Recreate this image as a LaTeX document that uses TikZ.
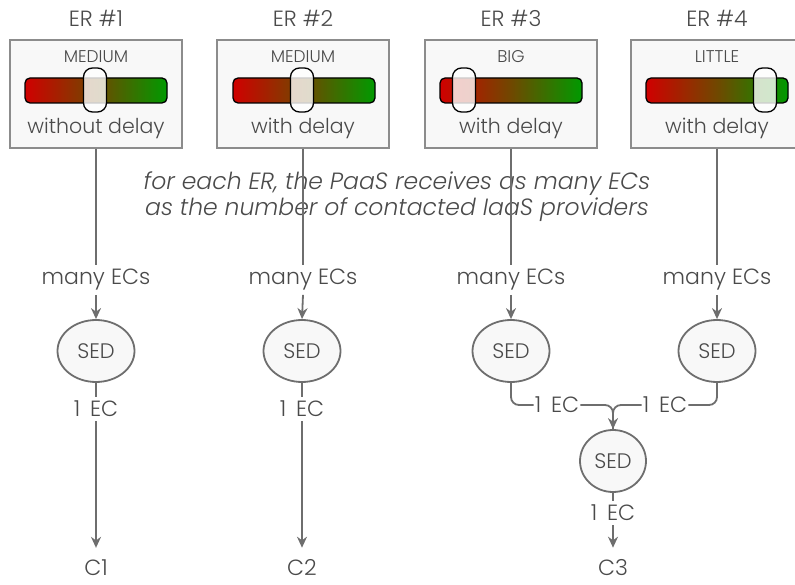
\documentclass[tikz,border=0pt]{standalone}
\usepackage{fontspec}
\setmainfont{Poppins}[UprightFont=* Light, ItalicFont=* Light Italic]
\usetikzlibrary{arrows.meta,shapes.geometric}
\definecolor{ln}{HTML}{6E6E6E}
\definecolor{tx}{HTML}{4A4A4A}
\definecolor{bx}{HTML}{8C8C8C}
\definecolor{bxfill}{HTML}{F8F8F8}
\definecolor{redbar}{HTML}{D00000}
\definecolor{greenbar}{HTML}{009A00}
\definecolor{midbar}{HTML}{704800}
\begin{document}
\begin{tikzpicture}[x=1pt,y=-1pt,
  erbox/.style={draw=bx, line width=1.5pt, fill=bxfill, minimum width=172pt, minimum height=108pt, inner sep=0pt},
  title/.style={text=tx, font=\fontsize{22}{26}\selectfont, inner sep=0pt},
  small/.style={text=tx, font=\fontsize{17}{20}\selectfont, inner sep=0pt},
  desc/.style={text=tx, font=\fontsize{20.5}{24}\selectfont, inner sep=0pt},
  lbl/.style={text=tx, font=\fontsize{22}{26}\selectfont, inner ysep=4pt, inner xsep=2pt},
  conn/.style={draw=ln, line width=1.8pt},
  arr/.style={conn, -{Stealth[length=11pt,width=10pt]}},
  sed/.style={ellipse, draw=ln, line width=1.8pt, fill=bxfill, minimum width=77pt, minimum height=62pt, inner sep=0pt, text=tx, font=\fontsize{21}{24}\selectfont},
  sedsmall/.style={sed, minimum width=66pt, minimum height=62pt},
  note/.style={text=tx, font=\fontsize{23.5}{27}\selectfont\itshape, align=center, inner sep=0pt}
]
\useasboundingbox (0,0) rectangle (795,585);

% ER boxes
\node[erbox] (b1) at (96,94) {};
\node[erbox] (b2) at (303,94) {};
\node[erbox] (b3) at (511,94) {};
\node[erbox] (b4) at (717,94) {};

\node[title] (t1) at (96,18) {ER \#1};
\node[title] (t2) at (303,18) {ER \#2};
\node[title] (t3) at (511,18) {ER \#3};
\node[title] (t4) at (717,18) {ER \#4};

\node[small] (s1) at (96,57) {MEDIUM};
\node[small] (s2) at (303,57) {MEDIUM};
\node[small] (s3) at (511,57) {BIG};
\node[small] (s4) at (717,57) {LITTLE};

\node[desc] (d1) at (96,128) {without delay};
\node[desc] (d2) at (303,128) {with delay};
\node[desc] (d3) at (511,128) {with delay};
\node[desc] (d4) at (717,128) {with delay};

% sliders
\foreach \c/\k in {96/95, 304/302, 511/464, 717/765}{
  \shade[left color=redbar, right color=greenbar, middle color=midbar, rounded corners=5pt] ({\c-71},78) rectangle ({\c+71},103);
  \draw[black, line width=1.3pt, rounded corners=5pt] ({\c-71},78) rectangle ({\c+71},103);
  \draw[black, line width=1.3pt, fill=white, fill opacity=0.8, rounded corners=9pt] ({\k-11.5},68) rectangle ({\k+11.5},112);
}

% note
\node[note] (note) at (397,197) {for each ER, the PaaS receives as many ECs\\[-1pt]as the number of contacted IaaS providers};

% many ECs labels
\node[lbl] (m1) at (96,280) {many ECs};
\node[lbl] (m2) at (303,280) {many ECs};
\node[lbl] (m3) at (511,280) {many ECs};
\node[lbl] (m4) at (717,280) {many ECs};

% SED nodes
\node[sed] (e1) at (96,351) {SED};
\node[sed] (e2) at (302,351) {SED};
\node[sed] (e3) at (511,351) {SED};
\node[sed] (e4) at (717,351) {SED};
\node[sedsmall] (e5) at (613,461) {SED};

% 1 EC labels
\node[lbl] (o1) at (96,409) {1\hspace{0.45em}EC};
\node[lbl] (o2) at (302,409) {1\hspace{0.45em}EC};
\node[lbl, inner xsep=1pt] (o3) at (557,405) {1\hspace{0.45em}EC};
\node[lbl, inner xsep=1pt] (o4) at (665,405) {1\hspace{0.45em}EC};
\node[lbl] (o5) at (613,513) {1\hspace{0.45em}EC};

% clients
\node[title] (c1) at (96,568) {C1};
\node[title] (c2) at (302,568) {C2};
\node[title] (c3) at (613,568) {C3};

% connectors
\draw[conn] (b1.south) -- (m1.north);
\draw[conn] (b2.south) -- (m2.north);
\draw[conn] (b3.south) -- (m3.north);
\draw[conn] (b4.south) -- (m4.north);
\draw[arr] (m1.south) -- (e1.north);
\draw[arr] (m2.south) -- (e2.north);
\draw[arr] (m3.south) -- (e3.north);
\draw[arr] (m4.south) -- (e4.north);
\draw[conn] (e1.south) -- (o1.north);
\draw[conn] (e2.south) -- (o2.north);
\draw[arr] (o1.south) -- ([yshift=12pt]c1.north);
\draw[arr] (o2.south) -- ([yshift=12pt]c2.north);
\draw[conn, rounded corners=8pt] (e3.south) |- (o3.west);
\draw[conn, rounded corners=8pt] (e4.south) |- (o4.east);
\draw[conn, rounded corners=8pt] (o3.east) -| (e5.north);
\draw[arr, rounded corners=8pt] (o4.west) -| (e5.north);
\draw[conn] (e5.south) -- (o5.north);
\draw[arr] (o5.south) -- ([yshift=12pt]c3.north);
\end{tikzpicture}
\end{document}
